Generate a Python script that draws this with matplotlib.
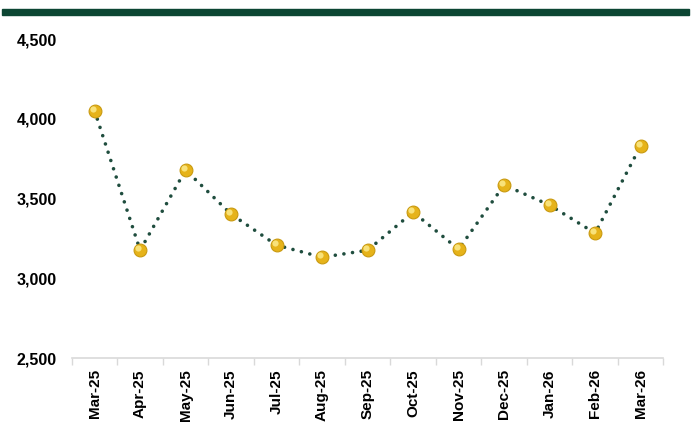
import matplotlib
matplotlib.use('Agg')
from matplotlib import pyplot as plt
from matplotlib.patches import Rectangle
import numpy as np

months = ["Mar-25", "Apr-25", "May-25", "Jun-25", "Jul-25", "Aug-25", "Sep-25",
          "Oct-25", "Nov-25", "Dec-25", "Jan-26", "Feb-26", "Mar-26"]
values = [4050, 3176, 3679, 3402, 3208, 3132, 3176, 3415, 3182, 3585, 3459, 3283, 3830]
yticks = [2500, 3000, 3500, 4000, 4500]

plt.rcParams['font.family'] = ['Liberation Sans', 'DejaVu Sans']

fig = plt.figure(figsize=(6.91, 4.34), dpi=100)
ax = fig.add_axes([0.104, 0.175, 0.856, 0.735])

x = np.arange(len(months))
ax.plot(x, values, linestyle=(0, (0.01, 2.4)), color="#1f4d3e", linewidth=2.6,
        dash_capstyle='round', zorder=2)
ax.scatter(x, values, s=85, color="#e6b31a", edgecolors="#c99a10", linewidths=0.8, zorder=3)
ax.scatter(x - 0.04, np.array(values) + 12, s=20, color="#f8e27a", linewidths=0, zorder=4)

ax.set_xlim(-0.5, len(months) - 0.5)
ax.set_ylim(2500, 4500)
ax.set_yticks(yticks)
ax.set_yticklabels(["{:,}".format(v) for v in yticks], fontweight="bold", fontsize=11.5)
ax.set_xticks(x)
ax.set_xticklabels(months, rotation=90, fontweight="bold", fontsize=11)
ax.set_xticks(np.arange(len(months) + 1) - 0.5, minor=True)
ax.tick_params(axis="x", which="major", length=0, pad=8)
ax.tick_params(axis="x", which="minor", length=5, color="#d9d9d9", width=1)
ax.tick_params(axis="y", length=0, pad=11)

for s in ["top", "right", "left"]:
    ax.spines[s].set_visible(False)
ax.spines["bottom"].set_color("#d9d9d9")
ax.spines["bottom"].set_linewidth(1.2)

fig.add_artist(Rectangle((0.003, 1 - 14.5 / 434), 0.994, 5.5 / 434,
                         transform=fig.transFigure, color="#0c4633"))

fig.savefig("out.png", dpi=100)
